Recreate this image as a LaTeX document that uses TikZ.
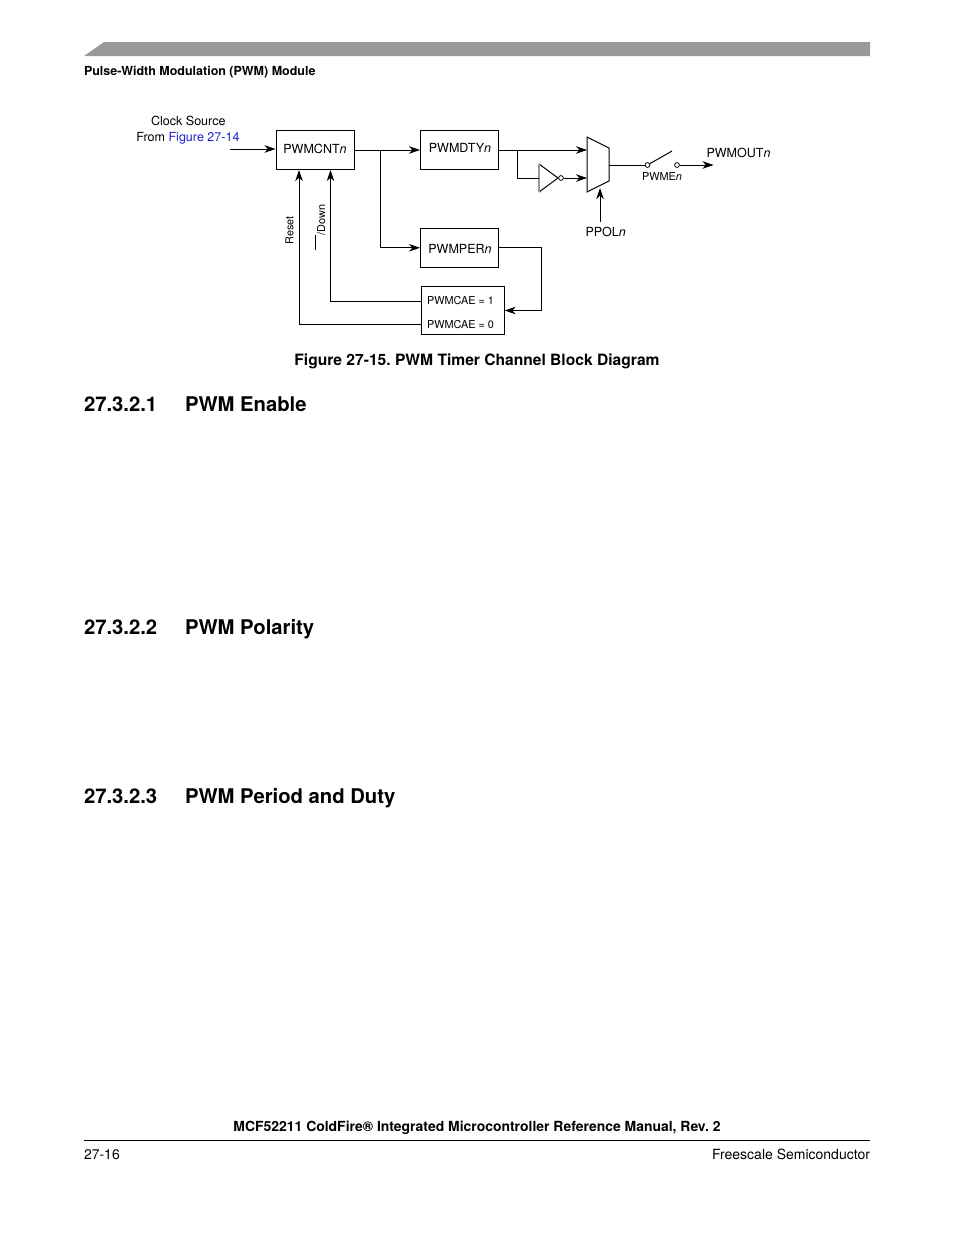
\documentclass[tikz,border=0pt]{standalone}
\usepackage{fontspec}
\setmainfont{TeX Gyre Heros}
\usetikzlibrary{arrows.meta}
\definecolor{barg}{HTML}{999999}
\definecolor{linkb}{HTML}{1F1FD0}
\frenchspacing
\tikzset{
  x=0.75pt,y=-0.75pt,
  box/.style={draw=black,line width=0.75pt,inner sep=0pt},
  wire/.style={line width=0.75pt,draw=black},
  arr/.style={wire,-{Stealth[length=8.2pt,width=5.6pt,inset=2.4pt]}},
  txt/.style={inner sep=0pt,outer sep=0pt,text=black},
  dia/.style={txt,font=\fontsize{9.4}{11}\selectfont},
  small/.style={txt,font=\fontsize{8.15}{10}\selectfont},
  head/.style={txt,anchor=base west,font=\fontsize{15.2}{18}\selectfont\bfseries},
  foot/.style={txt,font=\fontsize{10.5}{13}\selectfont},
  bub/.style={circle,draw=black,line width=0.6pt,fill=white,inner sep=0pt,minimum size=3.6pt},
}
\begin{document}
\begin{tikzpicture}
\useasboundingbox (0,0) rectangle (954,1235);
\fill[barg] (84,56) -- (104,42) -- (870,42) -- (870,56) -- cycle;
\node[txt,anchor=base west,font=\fontsize{9.36}{11}\selectfont\bfseries] (hdr) at (84,75) {Pulse-Width Modulation (PWM) Module};

% blocks
\node[box,minimum width=58.5pt,minimum height=29.6pt] (cnt) at (315,149.8) {};
\node[box,minimum width=58.2pt,minimum height=29.6pt] (dty) at (459.3,149.8) {};
\node[box,minimum width=58.2pt,minimum height=29.6pt] (per) at (459.3,247.8) {};
\node[box,minimum width=62pt,minimum height=35.8pt] (cae) at (462.8,310.3) {};
\node[dia,anchor=base] (cntt) at (315,153) {PWMCNT\textit{n}};
\node[dia,anchor=base] (dtyt) at (460,152) {PWMDTY\textit{n}};
\node[dia,anchor=base] (pert) at (460,253) {PWMPER\textit{n}};
\node[small,anchor=base west] (cae1) at (427,304) {PWMCAE = 1};
\node[small,anchor=base west] (cae0) at (427,328) {PWMCAE = 0};

% labels
\node[dia,anchor=base] (clk) at (188.3,125) {Clock Source};
\node[dia,anchor=base east] (from) at (239.5,141) {From \textcolor{linkb}{Figure 27-14}};
\node[small,rotate=90,anchor=base] (rst) at (293.3,230.5) {Reset};
\node[small,rotate=90,anchor=base] (dwn) at (325,220) {/Down};
\node[dia,anchor=base west] (ppol) at (585.5,236) {PPOL\textit{n}};
\node[small,anchor=base west] (pwme) at (642,180) {PWME\textit{n}};
\node[dia,anchor=base west] (pout) at (706.5,157) {PWMOUT\textit{n}};

% coordinates
\coordinate (clkin) at (230,149);
\coordinate (split) at (380.5,150);
\coordinate (m1) at (587,137);
\coordinate (m2) at (609,148);
\coordinate (m3) at (609,181);
\coordinate (m4) at (587,192);
\coordinate (mout) at (609,165);
\coordinate (minA) at (587,150);
\coordinate (minB) at (587,178);
\coordinate (tap) at (517.5,150);
\coordinate (i1) at (539,164);
\coordinate (i2) at (539,192);
\coordinate (i3) at (558,178);
\coordinate (iin) at (539,178);
\coordinate (ppin) at (600,222);
\coordinate (ppto) at (600,188);
\coordinate (swarm) at (672,151);
\coordinate (outend) at (713.5,165);
\coordinate (railR) at (541,247.5);
\coordinate (railB) at (541,310.5);
\coordinate (rstY) at (299,324);
\coordinate (dwnY) at (330.5,301);
\coordinate (barA) at (315,235);
\coordinate (barB) at (315,250);

% mux and inverter
\draw[wire,line join=miter] (m1) -- (m2) -- (m3) -- (m4) -- cycle;
\draw[wire,draw=black] (i1) -- (i3) -- (i2);
\draw[line width=1pt,draw=barg] (i1) -- (i2);
\node[bub] (inb) at (561,178) {};
\node[bub] (sw1) at (647.5,165) {};
\node[bub] (sw2) at (677,165) {};

% connectors
\draw[arr] (clkin) -- (cnt.west |- clkin);
\draw[arr] (cnt.east |- split) -- (dty.west |- split);
\draw[arr] (split) |- (per.west);
\draw[arr] (dty.east |- tap) -- (minA);
\draw[wire] (tap) |- (iin);
\draw[arr] (inb) -- (minB);
\draw[arr] (ppin) -- (ppto);
\draw[wire] (mout) -- (sw1);
\draw[wire] (sw1) -- (swarm);
\draw[arr] (sw2) -- (outend);
\draw[wire] (per.east |- railR) -- (railR) -- (railB);
\draw[arr] (railB) -- (cae.east |- railB);
\draw[arr] (cae.west |- rstY) -| (cnt.south -| rstY);
\draw[arr] (cae.west |- dwnY) -| (cnt.south -| dwnY);
\draw[wire] (barA) -- (barB);

% caption and headings
\node[txt,anchor=base,font=\fontsize{11.7}{14}\selectfont\bfseries] (cap) at (477,365) {Figure 27-15. PWM Timer Channel Block Diagram};
\node[head] (h1) at (84,411.5) {27.3.2.1};
\node[head] (h1b) at (185,411.5) {PWM Enable};
\node[head] (h2) at (84,634.5) {27.3.2.2};
\node[head] (h2b) at (185,634.5) {PWM Polarity};
\node[head] (h3) at (84,803.5) {27.3.2.3};
\node[head] (h3b) at (185,803.5) {PWM Period and Duty};

% footer
\node[txt,anchor=base,font=\fontsize{10.45}{13}\selectfont\bfseries] (ft) at (477,1131) {MCF52211 ColdFire® Integrated Microcontroller Reference Manual, Rev. 2};
\draw[wire] (84,1140.5) -- (870,1140.5);
\node[foot,anchor=base west] (pg) at (84,1159) {27-16};
\node[foot,anchor=base east] (fs) at (870,1159) {Freescale Semiconductor};
\end{tikzpicture}
\end{document}
